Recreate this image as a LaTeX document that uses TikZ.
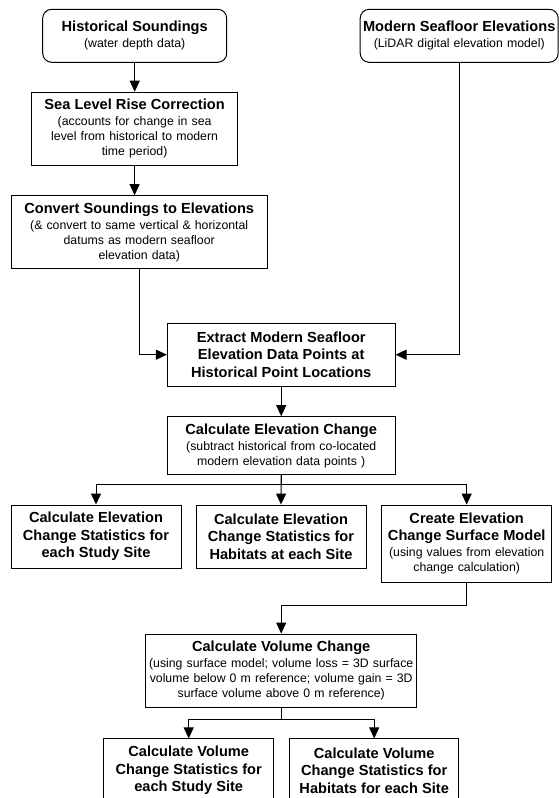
\documentclass[tikz,border=0pt]{standalone}
\usepackage{fontspec}
\setmainfont{Liberation Sans}
\usetikzlibrary{arrows.meta}
\newcommand{\boxtitle}[1]{{\fontsize{14.6}{17.5}\selectfont\bfseries #1\par}\vspace{1pt}}
\newcommand{\boxnote}{\fontsize{12.3}{15}\selectfont}

\begin{document}
\begin{tikzpicture}[x=1pt,y=-1pt,
	stepbox/.style={draw,line width=1pt,align=center,inner xsep=0pt,inner ysep=0pt,font=\boxnote},
	startbox/.style={stepbox,rounded corners=9pt},
	arr/.style={line width=1pt,-{Triangle[length=11pt,width=10pt]}}]
\useasboundingbox (0,0) rectangle (559,798);

\node[startbox,text width=184,minimum height=53] (hist) at (134.7,35.8)
	{\boxtitle{Historical Soundings}(water depth data)};
\node[startbox,text width=198,minimum height=53] (modern) at (459.2,35.8)
	{\boxtitle{Modern Seafloor Elevations}(LiDAR digital elevation model)};
\node[stepbox,text width=206,minimum height=73] (slr) at (134.6,128.7)
	{\boxtitle{Sea Level Rise Correction}(accounts for change in sea\\ level from historical to modern\\ time period)};
\node[stepbox,text width=256,minimum height=72.6] (conv) at (139.2,232)
	{\boxtitle{Convert Soundings to Elevations}(\& convert to same vertical \& horizontal\\ datums as modern seafloor\\ elevation data)};
\node[stepbox,text width=227.7,minimum height=62.7] (extract) at (281.2,354.7)
	{\boxtitle{Extract Modern Seafloor\\ Elevation Data Points at\\ Historical Point Locations}};
\node[stepbox,text width=227.7,minimum height=57.6] (elev) at (281.2,445.5)
	{\boxtitle{Calculate Elevation Change}(subtract historical from co-located\\ modern elevation data points )};
\node[stepbox,text width=170,minimum height=63.3] (statsite) at (96,536.7)
	{\boxtitle{Calculate Elevation\\ Change Statistics for\\ each Study Site}};
\node[stepbox,text width=170,minimum height=63.3] (stathab) at (281,536.7)
	{\boxtitle{Calculate Elevation\\ Change Statistics for\\ Habitats at each Site}};
\node[stepbox,text width=170,minimum height=77.3] (surf) at (466.7,543.7)
	{\boxtitle{Create Elevation\\ Change Surface Model}(using values from elevation\\ change calculation)};
\node[stepbox,text width=271,minimum height=73.3] (vol) at (281.2,670.7)
	{\boxtitle{Calculate Volume Change}(using surface model; volume loss = 3D surface\\ volume below 0 m reference; volume gain = 3D\\ surface volume above 0 m reference)};
\node[stepbox,text width=169.5,minimum height=63.3] (volsite) at (188.7,770.6)
	{\boxtitle{Calculate Volume\\ Change Statistics for\\ each Study Site}};
\node[stepbox,text width=169.5,minimum height=63.3] (volhab) at (374.2,770.6)
	{\boxtitle{Calculate Volume\\ Change Statistics for\\ Habitats for each Site}};

\draw[arr] (hist.south) -- (hist.south |- slr.north);
\draw[arr] (slr.south) -- (slr.south |- conv.north);
\draw[arr] (conv.south) |- (extract.west);
\draw[arr] (modern.south) |- (extract.east);
\draw[arr] (extract) -- (elev);
\draw[arr] (elev.south) -- ++(0,9.7) -| (statsite.north);
\draw[arr] (elev.south) -- (stathab.north);
\draw[arr] (elev.south) -- ++(0,9.7) -| (surf.north);
\draw[arr] (surf.south) -- ++(0,22.7) -| (vol.north);
\draw[arr] (vol.south) -- ++(0,12) -| (volsite.north);
\draw[arr] (vol.south) -- ++(0,12) -| (volhab.north);
\end{tikzpicture}
\end{document}
